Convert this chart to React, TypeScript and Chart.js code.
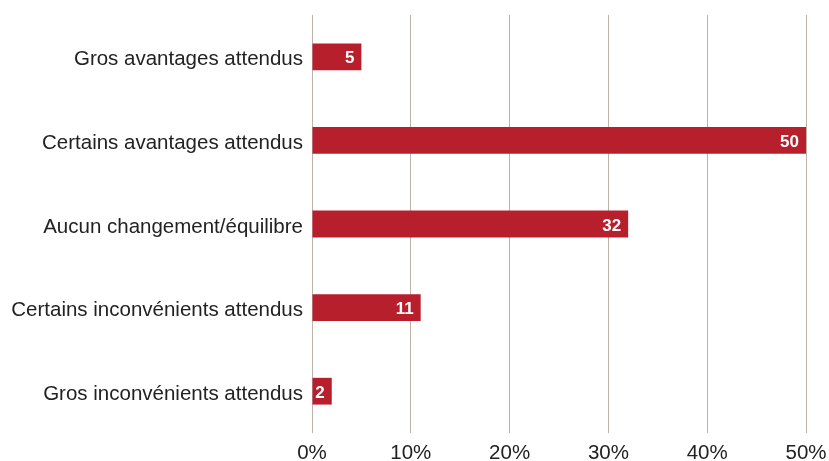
import React, { useEffect, useRef } from "react";
import { Chart, registerables } from "chart.js";

Chart.register(...registerables);

const categories = [
  "Gros avantages attendus",
  "Certains avantages attendus",
  "Aucun changement/équilibre",
  "Certains inconvénients attendus",
  "Gros inconvénients attendus",
];
const values = [5, 50, 32, 11, 2];
const xTicks = [0, 10, 20, 30, 40, 50];

const BAR_COLOR = "#B81F2D";
const GRID_COLOR = "#BDB2AA";
const FONT = "'Liberation Sans', Arial, sans-serif";

const valueLabels = {
  id: "valueLabels",
  afterDatasetsDraw(chart: any) {
    const ctx = chart.ctx;
    const meta = chart.getDatasetMeta(0);
    ctx.save();
    ctx.fillStyle = "#ffffff";
    ctx.font = `bold 17px ${FONT}`;
    ctx.textAlign = "right";
    ctx.textBaseline = "middle";
    meta.data.forEach((bar: any, i: number) => {
      ctx.fillText(String(values[i]), bar.x - 7, bar.y + 2);
    });
    ctx.restore();
  },
};

export default function App() {
  const ref = useRef<HTMLCanvasElement>(null);
  useEffect(() => {
    if (!ref.current) return;
    const chart = new Chart(ref.current, {
      type: "bar",
      data: {
        labels: categories,
        datasets: [
          {
            data: values,
            backgroundColor: BAR_COLOR,
            borderWidth: 0,
            barPercentage: 0.32,
            categoryPercentage: 1,
          },
        ],
      },
      options: {
        indexAxis: "y",
        animation: false,
        responsive: true,
        maintainAspectRatio: false,
        layout: { padding: { top: 15, right: 23, left: 0, bottom: 0 } },
        plugins: { legend: { display: false }, tooltip: { enabled: false } },
        scales: {
          x: {
            min: 0,
            max: 50,
            afterBuildTicks(scale: any) {
              scale.ticks = xTicks.map((v) => ({ value: v }));
            },
            afterFit(scale: any) {
              scale.height = 28;
              scale.paddingLeft = 0;
              scale.paddingRight = 0;
            },
            grid: { color: GRID_COLOR, lineWidth: 1, drawTicks: false },
            border: { display: false },
            ticks: {
              padding: 8,
              color: "#222222",
              font: { family: FONT, size: 20.5 },
              callback: (v: any) => `${v}%`,
            },
          },
          y: {
            afterFit(scale: any) {
              scale.width = 312;
              scale.paddingTop = 0;
              scale.paddingBottom = 0;
            },
            grid: { display: false, drawTicks: false },
            border: { display: false },
            ticks: {
              padding: 9,
              labelOffset: 3,
              color: "#222222",
              font: { family: FONT, size: 20.5 },
            },
          },
        },
      },
      plugins: [valueLabels],
    });
    return () => chart.destroy();
  }, []);
  return (
    <div style={{ position: "absolute", left: 0, top: 0, width: 829, height: 461 }}>
      <canvas ref={ref} />
    </div>
  );
}
